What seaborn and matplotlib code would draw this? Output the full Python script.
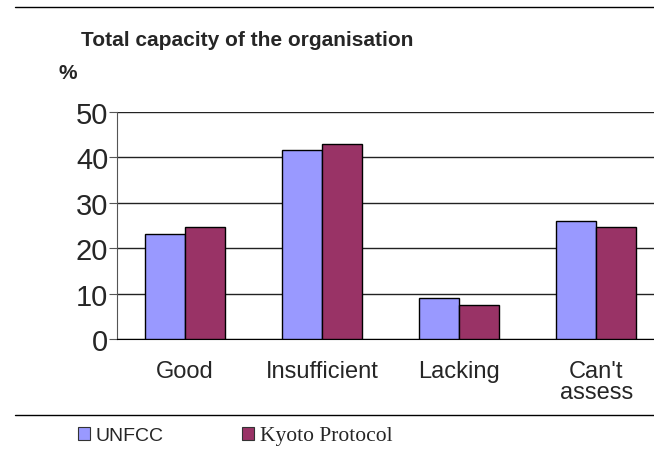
import numpy as np
import pandas as pd
import matplotlib
matplotlib.use("Agg")
import matplotlib.pyplot as plt
from matplotlib.lines import Line2D
from matplotlib.patches import Patch
import seaborn as sns

# data
categories = ["Good", "Insufficient", "Lacking", "Can't\nassess"]
unfcc = [23.1, 41.6, 9.1, 26.0]
kyoto = [24.7, 42.9, 7.5, 24.7]
series = ["UNFCC", "Kyoto Protocol"]
colors = ["#9999FF", "#993366"]
yticks = [0, 10, 20, 30, 40, 50]

df = pd.DataFrame({
    "category": categories * 2,
    "value": unfcc + kyoto,
    "series": [series[0]] * len(categories) + [series[1]] * len(categories),
})

sns.set_style("white")
plt.rcParams["font.family"] = ["Liberation Sans", "DejaVu Sans"]

fig = plt.figure(figsize=(6.54, 4.56), dpi=100)
W, H = 654, 456
ax = fig.add_axes([116.7 / W, 1 - 340 / H, 548 / W, 227 / H])

sns.barplot(data=df, x="category", y="value", hue="series",
            palette=dict(zip(series, colors)), width=0.58,
            edgecolor="black", linewidth=1, saturation=1,
            legend=False, ax=ax, zorder=3)

ax.set_ylim(0, 50)
ax.set_xlim(-0.5, 3.5)
ax.set_yticks(yticks)
ax.set_yticklabels([str(t) for t in yticks], fontsize=21)
ax.yaxis.grid(True, color="#222222", linewidth=1)
ax.set_axisbelow(True)
ax.set_xlabel("")
ax.set_ylabel("")

# category ticks sit between groups
ax.set_xticks(range(len(categories)))
ax.set_xticklabels(categories, fontsize=17, linespacing=0.95, va="top")
ax.tick_params(axis="x", which="major", length=0, pad=15)
ax.set_xticks([0.5, 1.5, 2.5], minor=True)
ax.tick_params(axis="x", which="minor", length=4, direction="out", color="black")
ax.tick_params(axis="y", length=6, direction="out", pad=0, color="#555555", left=True)

for side in ["top", "right"]:
    ax.spines[side].set_visible(False)
ax.spines["left"].set_color("#555555")
ax.spines["bottom"].set_color("black")

fig.text(247 / W, 1 - 41 / H, "Total capacity of the organisation",
         fontsize=15, fontweight="bold", ha="center", va="center")
fig.text(68 / W, 1 - 74 / H, "%", fontsize=15, fontweight="bold",
         ha="center", va="center")

# rule lines above and below
fig.add_artist(Line2D([15 / W, 1], [1 - 8 / H] * 2, color="black", lw=1))
fig.add_artist(Line2D([15 / W, 1], [1 - 416 / H] * 2, color="black", lw=1))

handles = [Patch(facecolor=c, edgecolor="#333333", lw=0.8) for c in colors]
leg = fig.legend(handles, series, loc="center left",
                 bbox_to_anchor=(78 / W, 1 - 437 / H), ncol=2, frameon=False,
                 fontsize=14, borderpad=0, borderaxespad=0,
                 handlelength=0.62, handleheight=0.62, handletextpad=0.3,
                 columnspacing=4.0)
leg.get_texts()[1].set_fontfamily("Liberation Serif")
leg.get_texts()[1].set_fontsize(15.5)

fig.savefig("out.png", dpi=100)
